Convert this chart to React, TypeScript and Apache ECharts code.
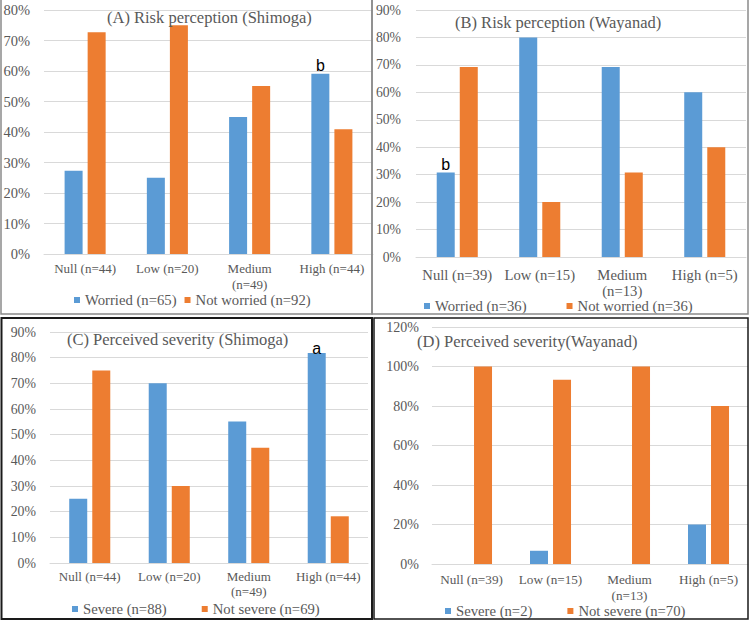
import React, { useEffect, useRef } from "react";
import * as echarts from "echarts";

// ---- Data ----
const categoriesShimoga = ["Null (n=44)", "Low (n=20)", "Medium (n=49)", "High (n=44)"];
const categoriesWayanad = ["Null (n=39)", "Low (n=15)", "Medium (n=13)", "High (n=5)"];

const worriedShimoga = [27.3, 25.0, 44.9, 59.1];
const notWorriedShimoga = [72.7, 75.0, 55.1, 40.9];
const worriedWayanad = [30.8, 80.0, 69.2, 60.0];
const notWorriedWayanad = [69.2, 20.0, 30.8, 40.0];
const severeShimoga = [25.0, 70.0, 55.1, 81.8];
const notSevereShimoga = [75.0, 30.0, 44.9, 18.2];
const severeWayanad = [0, 6.7, 0, 20.0];
const notSevereWayanad = [100, 93.3, 100, 80.0];

const panelTitles = [
  "(A) Risk perception (Shimoga)",
  "(B) Risk perception (Wayanad)",
  "(C) Perceived severity (Shimoga)",
  "(D) Perceived severity(Wayanad)",
];
const seriesNames = [
  ["Worried (n=65)", "Not worried (n=92)"],
  ["Worried (n=36)", "Not worried (n=36)"],
  ["Severe (n=88)", "Not severe (n=69)"],
  ["Severe (n=2)", "Not severe (n=70)"],
];
const yMax = [80, 90, 90, 120];
const yInterval = [10, 10, 10, 20];
// significance letters: [panel, series, index, text]
const annotations: [number, number, number, string][] = [
  [0, 0, 3, "b"],
  [1, 0, 0, "b"],
  [2, 0, 3, "a"],
];

const panelCategories = [categoriesShimoga, categoriesWayanad, categoriesShimoga, categoriesWayanad];
const panelValues = [
  [worriedShimoga, notWorriedShimoga],
  [worriedWayanad, notWorriedWayanad],
  [severeShimoga, notSevereShimoga],
  [severeWayanad, notSevereWayanad],
];

// ---- Layout / style ----
const BLUE = "#5B9BD5";
const ORANGE = "#ED7D31";
const TEXT = "#595959";
const GRID = "#D9D9D9";
const SERIF = "Liberation Serif";

const layouts = [
  { left: 44, right: 378, top: 10, bottom: 366, titleLeft: 107, titleTop: 9, legendLeft: 74, legendTop: 292, legendGap: 8, yFont: 14.5, yMargin: 14, xFont: 13, xMargin: 6, xLine: 16 },
  { left: 416, right: 5, top: 10, bottom: 363, titleLeft: 455, titleTop: 14, legendLeft: 424, legendTop: 298, legendGap: 40, yFont: 13.7, yMargin: 15, xFont: 14.7, xMargin: 10, xLine: 16 },
  { left: 50, right: 383, top: 332, bottom: 57, titleLeft: 67, titleTop: 331, legendLeft: 72, legendTop: 601, legendGap: 35, yFont: 13.8, yMargin: 14, xFont: 13, xMargin: 6, xLine: 15 },
  { left: 432, right: 3, top: 327, bottom: 56, titleLeft: 417, titleTop: 333, legendLeft: 445, legendTop: 603, legendGap: 35, yFont: 14, yMargin: 13, xFont: 13.2, xMargin: 8, xLine: 15.5 },
];

function wrapLabel(v: string) {
  if (v.length > 12) {
    const i = v.indexOf(" ");
    return v.slice(0, i) + "\n" + v.slice(i + 1);
  }
  return v;
}

export default function App() {
  const ref = useRef<HTMLDivElement>(null);

  useEffect(() => {
    if (!ref.current) return;
    const chart = echarts.init(ref.current, undefined, { renderer: "svg" });

    const grid: any[] = [];
    const xAxis: any[] = [];
    const yAxis: any[] = [];
    const series: any[] = [];
    const title: any[] = [];
    const legend: any[] = [];

    layouts.forEach((L, p) => {
      grid.push({ left: L.left, right: L.right, top: L.top, bottom: L.bottom, containLabel: false });
      xAxis.push({
        type: "category",
        gridIndex: p,
        data: panelCategories[p],
        axisLine: { show: true, lineStyle: { color: GRID, width: 1 } },
        axisTick: { show: false },
        axisLabel: {
          interval: 0,
          color: TEXT,
          fontFamily: SERIF,
          fontWeight: "normal",
          fontSize: L.xFont,
          lineHeight: L.xLine,
          margin: L.xMargin,
          formatter: wrapLabel,
        },
      });
      yAxis.push({
        type: "value",
        gridIndex: p,
        min: 0,
        max: yMax[p],
        interval: yInterval[p],
        axisLine: { show: false },
        axisTick: { show: false },
        splitLine: { show: true, lineStyle: { color: GRID, width: 1 } },
        axisLabel: {
          color: TEXT,
          fontFamily: SERIF,
          fontWeight: "normal",
          fontSize: L.yFont,
          margin: L.yMargin,
          formatter: "{value}%",
        },
      });
      [0, 1].forEach((s) => {
        const data = panelValues[p][s].map((v, i) => {
          const ann = annotations.find((a) => a[0] === p && a[1] === s && a[2] === i);
          if (!ann) return v;
          return {
            value: v,
            label: {
              show: true,
              position: "top",
              distance: ann[3] === "a" ? -3 : 0,
              formatter: ann[3],
              color: "#000",
              fontFamily: "Liberation Sans",
              fontSize: 16,
              lineHeight: 16,
            },
          };
        });
        series.push({
          type: "bar",
          name: seriesNames[p][s],
          xAxisIndex: p,
          yAxisIndex: p,
          data,
          barWidth: 18,
          barGap: "28%",
          itemStyle: { color: s === 0 ? BLUE : ORANGE },
        });
      });
      title.push({
        text: panelTitles[p],
        left: L.titleLeft,
        top: L.titleTop,
        padding: 0,
        textStyle: { color: TEXT, fontFamily: SERIF, fontSize: 16.5, fontWeight: "normal", lineHeight: 16 },
      });
      legend.push({
        data: seriesNames[p],
        left: L.legendLeft,
        top: L.legendTop,
        padding: 0,
        icon: "rect",
        itemWidth: 6,
        itemHeight: 6,
        itemGap: L.legendGap,
        selectedMode: false,
        textStyle: { color: TEXT, fontFamily: SERIF, fontWeight: "normal", fontSize: 14.7, lineHeight: 16 },
      });
    });

    const option: any = {
      animation: false,
      backgroundColor: "#ffffff",
      textStyle: { fontFamily: SERIF },
      grid,
      xAxis,
      yAxis,
      series,
      title,
      legend,
      graphic: [
        { type: "rect", z: 100, shape: { x: 1, y: -2, width: 371, height: 316 }, style: { fill: "none", stroke: "#8a8a8a", lineWidth: 1.5 } },
        { type: "rect", z: 100, shape: { x: 372, y: -2, width: 376, height: 316 }, style: { fill: "none", stroke: "#8a8a8a", lineWidth: 1.5 } },
        { type: "rect", z: 100, shape: { x: 1.5, y: 318, width: 370.5, height: 301 }, style: { fill: "none", stroke: "#1a1a1a", lineWidth: 2 } },
        { type: "rect", z: 100, shape: { x: 374, y: 318, width: 374, height: 301 }, style: { fill: "none", stroke: "#1a1a1a", lineWidth: 1.5 } },
      ],
    };

    chart.setOption(option);
    return () => chart.dispose();
  }, []);

  return (
    <div
      ref={ref}
      style={{ position: "absolute", left: 0, top: 0, width: 751, height: 620, background: "#fff" }}
    />
  );
}
